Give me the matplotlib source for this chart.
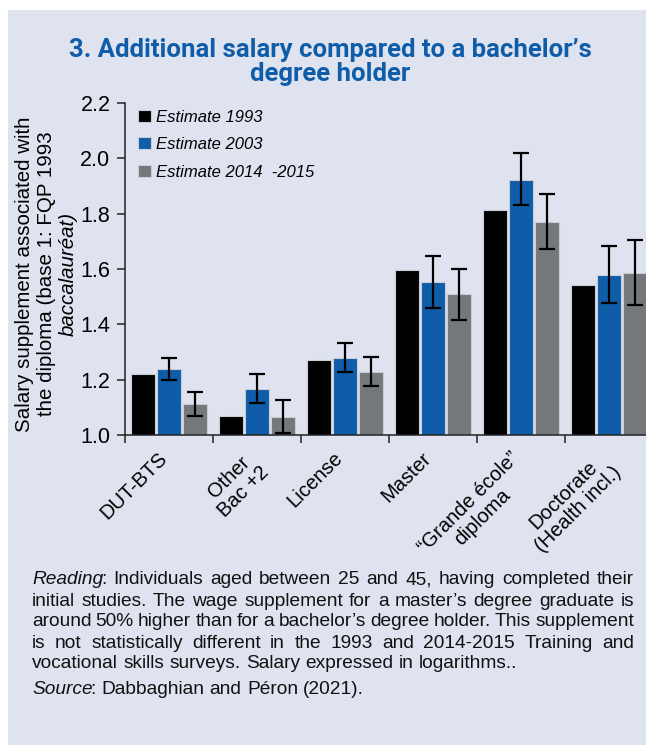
import matplotlib
matplotlib.use("Agg")
import matplotlib.pyplot as plt
import matplotlib.transforms as mtransforms
from matplotlib.patches import Rectangle
import numpy as np

plt.rcParams["font.family"] = ["Liberation Sans Narrow", "Liberation Sans", "DejaVu Sans"]

# data
diplomas = ["DUT-BTS", "Other\nBac +2", "License", "Master",
            "\u201cGrande \u00e9cole\u201d\ndiploma", "Doctorate\n(Health incl.)"]
series = ["Estimate 1993", "Estimate 2003", "Estimate 2014  -2015"]
est_1993 = [1.22, 1.07, 1.27, 1.597, 1.813, 1.542]
est_2003 = [1.237, 1.167, 1.278, 1.552, 1.923, 1.577]
est_2015 = [1.112, 1.064, 1.229, 1.508, 1.771, 1.585]
low_2003 = [1.20, 1.116, 1.227, 1.46, 1.831, 1.478]
high_2003 = [1.277, 1.222, 1.331, 1.647, 2.018, 1.683]
low_2015 = [1.07, 1.006, 1.177, 1.417, 1.672, 1.47]
high_2015 = [1.154, 1.125, 1.283, 1.60, 1.872, 1.705]

colors = ["#000000", "#0F5DA8", "#75787B"]
bg = "#DEE3EF"
W, H = 646, 745


def fx(px):
    return px / W


def fy(py):
    return 1 - py / H


fig = plt.figure(figsize=(W / 100, H / 100), dpi=100)
fig.patches.append(Rectangle((fx(8), 0), 1, fy(10), transform=fig.transFigure,
                             facecolor=bg, edgecolor="none", zorder=-10))

ax = fig.add_axes([fx(125), fy(435), 528 / W, 332 / H])
ax.set_facecolor("none")

x = np.arange(len(diplomas)) + 0.5
step = 0.296
width = 0.272
vals = [est_1993, est_2003, est_2015]
for k, (v, c, lab) in enumerate(zip(vals, colors, series)):
    ax.bar(x + (k - 1) * step, np.array(v) - 1.0, bottom=1.0, width=width,
           color=c, edgecolor="#C9CDD6", linewidth=0.8, label=lab, zorder=2)

for v, lo, hi, off in [(est_2003, low_2003, high_2003, 0), (est_2015, low_2015, high_2015, 1)]:
    v = np.array(v)
    yerr = [v - np.array(lo), np.array(hi) - v]
    ax.errorbar(x + off * step, v, yerr=yerr, fmt="none", ecolor="black",
                elinewidth=1.6, capsize=5.5, capthick=1.6, zorder=3)

ax.set_xlim(0, 6)
ax.set_ylim(1.0, 2.2)
yt = np.arange(1.0, 2.21, 0.2)
ax.set_yticks(yt)
ax.set_yticklabels([f"{t:.1f}" for t in yt], fontsize=15.5)
ax.set_xticks(np.arange(0, 7))
ax.set_xticklabels([])
ax.tick_params(axis="both", direction="out", length=6, width=1.1, color="#222222", pad=4.5)
for s in ["top", "right"]:
    ax.spines[s].set_visible(False)
for s in ["left", "bottom"]:
    ax.spines[s].set_linewidth(1.1)
    ax.spines[s].set_color("#222222")

# rotated category labels
trans = mtransforms.blended_transform_factory(ax.transData, ax.transAxes)
shift = mtransforms.ScaledTranslation(-12 / 100, 0, fig.dpi_scale_trans)
for xi, lab in zip(x, diplomas):
    ax.text(xi, -0.04, lab, transform=trans + shift,
            rotation=45, rotation_mode="anchor", ha="right", va="top",
            multialignment="center", fontsize=14.5, linespacing=1.1)

# y label (three lines, last in italics)
fig.text(fx(25), fy(274), "Salary supplement associated with",
         rotation=90, ha="center", va="center", fontsize=14.8)
fig.text(fx(47), fy(274), "the diploma (base 1: FQP 1993",
         rotation=90, ha="center", va="center", fontsize=14.8)
fig.text(fx(68), fy(274), "baccalaur\u00e9at)",
         rotation=90, ha="center", va="center", fontsize=14.8, style="italic")

leg = ax.legend(loc="upper left", bbox_to_anchor=(0.0, 1.02), frameon=False,
                fontsize=12, handlelength=0.75, handleheight=0.75,
                handletextpad=0.3, labelspacing=0.75, borderaxespad=0.4)
for t in leg.get_texts():
    t.set_style("italic")

fig.text(fx(330), fy(62),
         "3. Additional salary compared to a bachelor\u2019s\ndegree holder",
         ha="center", va="center", fontsize=18.5, fontweight="bold",
         color="#0F5DA8", family=["Roboto", "DejaVu Sans"], linespacing=0.98)

# notes below the chart, justified like the original
note_lines = [
    ("*Reading*: Individuals aged between 25 and 45, having completed their", True),
    ("initial studies. The wage supplement for a master\u2019s degree graduate is", True),
    ("around 50% higher than for a bachelor\u2019s degree holder. This supplement", True),
    ("is not statistically different in the 1993 and 2014-2015 Training and", True),
    ("vocational skills surveys. Salary expressed in logarithms..", False),
    ("*Source*: Dabbaghian and P\u00e9ron (2021).", False),
]
note_y = [580, 601, 622, 643, 664, 689]
fs = 13.8
left_px, right_px = 32, 634
renderer = fig.canvas.get_renderer()


def text_w(s, italic=False):
    t = fig.text(0, 0, s, fontsize=fs, style="italic" if italic else "normal")
    w = t.get_window_extent(renderer).width
    t.remove()
    # italic extents come out a little wide
    return w - (2 if italic else 0)


space_w = text_w("a a") - text_w("aa")
for (line, justify), py in zip(note_lines, note_y):
    words = []
    for w in line.split(" "):
        if w.startswith("*"):
            _, it, rest = w.split("*")
            segs = [(it, True), (rest, False)]
        else:
            segs = [(w, False)]
        words.append(segs)
    widths = [sum(text_w(s, i) for s, i in segs) for segs in words]
    gap = space_w
    if justify:
        gap = (right_px - left_px - sum(widths)) / (len(words) - 1)
    xp = left_px
    for segs, wd in zip(words, widths):
        xs = xp
        for s, i in segs:
            fig.text(fx(xs), fy(py), s, fontsize=fs, va="center",
                     style="italic" if i else "normal", color="#111111")
            xs += text_w(s, i)
        xp += wd + gap

fig.savefig("out.png", dpi=100, facecolor="white")
